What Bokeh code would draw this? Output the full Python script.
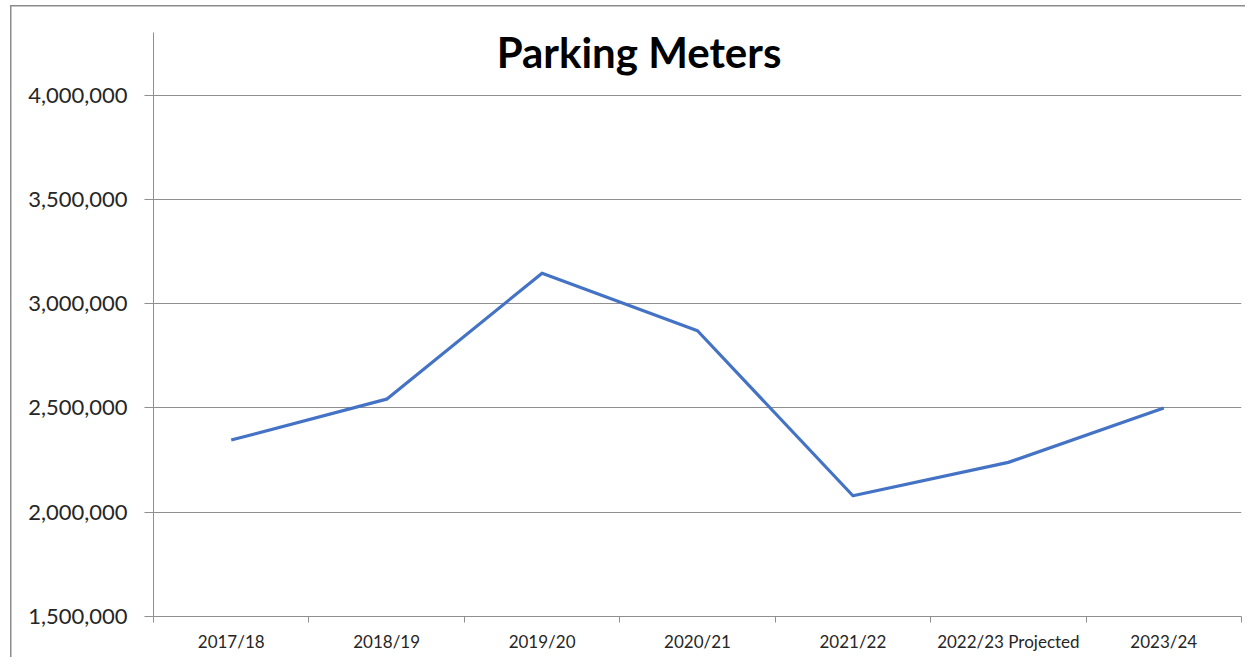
from bokeh.plotting import figure
from bokeh.models import (Range1d, FixedTicker, NumeralTickFormatter, Label, ColumnDataSource)
from bokeh.embed import file_html
from bokeh.resources import INLINE

categories = ["2017/18", "2018/19", "2019/20", "2020/21", "2021/22", "2022/23 Projected", "2023/24"]
values = [2346000, 2542000, 3146000, 2870000, 2079000, 2239000, 2500000]
y_ticks = [1500000, 2000000, 2500000, 3000000, 3500000, 4000000]
title_text = "Parking Meters"

FONT = "Lato"
GRAY = "#8f8f8f"

n = len(categories)
xs = [i + 0.5 for i in range(n)]
src = ColumnDataSource(dict(x=xs, y=values, cat=categories))

p = figure(width=1245, height=657, output_backend="svg", toolbar_location=None,
           x_range=Range1d(0, n), y_range=Range1d(1500000, 4300000),
           min_border_left=153, min_border_right=4, min_border_top=32, min_border_bottom=41)
p.styles = {
    "background": ("linear-gradient(#8c8c8c,#8c8c8c) 10px 5px / 1.5px 100% no-repeat, "
                   "linear-gradient(#8c8c8c,#8c8c8c) 10px 5px / 100% 1.5px no-repeat, white"),
}
p.outline_line_color = None
p.background_fill_color = "white"
p.border_fill_color = None

p.line("x", "y", source=src, line_color="#4472C4", line_width=3.2, line_join="round")

# x axis
xa = p.xaxis[0]
xa.ticker = FixedTicker(ticks=xs, minor_ticks=list(range(n + 1)))
xa.major_label_overrides = {x: c for x, c in zip(xs, categories)}
xa.major_tick_line_color = None
xa.major_tick_out = 0
xa.major_tick_in = 0
xa.minor_tick_line_color = GRAY
xa.minor_tick_out = 6
xa.minor_tick_in = 0
xa.minor_tick_line_width = 1
xa.axis_line_color = GRAY
xa.major_label_text_font = FONT
xa.major_label_text_font_size = "17px"
xa.major_label_text_color = "#262626"
xa.major_label_standoff = 8

# y axis
ya = p.yaxis[0]
ya.ticker = FixedTicker(ticks=y_ticks, minor_ticks=[])
ya.formatter = NumeralTickFormatter(format="0,0")
ya.major_tick_line_color = GRAY
ya.major_tick_out = 9
ya.major_tick_in = 0
ya.minor_tick_line_color = None
ya.axis_line_color = GRAY
ya.major_label_text_font = FONT
ya.major_label_text_font_size = "22px"
ya.major_label_text_color = "#262626"
ya.major_label_standoff = 17

p.xgrid.grid_line_color = None
p.ygrid.grid_line_color = GRAY
p.ygrid.grid_line_width = 1

title = Label(x=485.5, y=565, x_units="screen", y_units="screen", text=title_text,
              text_font=FONT, text_font_style="bold", text_font_size="42px",
              text_align="center", text_baseline="alphabetic", text_color="black")
p.add_layout(title)

open("out.html", "w").write(file_html(p, INLINE))
